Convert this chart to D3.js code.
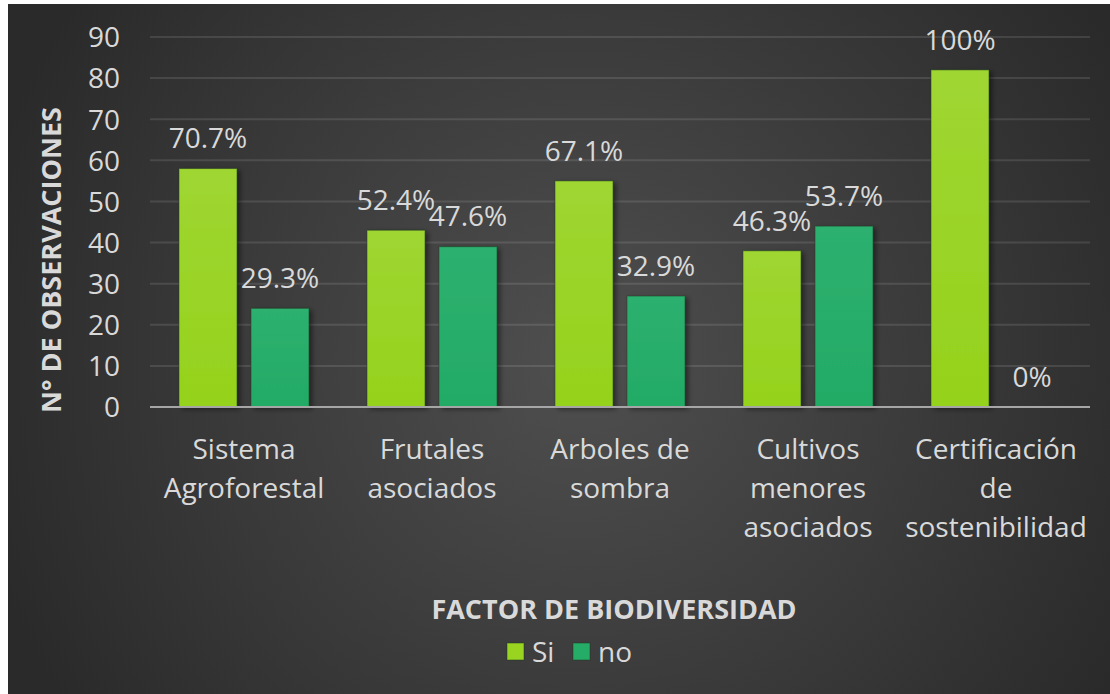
<!DOCTYPE html>
<html>
<head>
<meta charset="utf-8">
<script src="https://cdn.jsdelivr.net/npm/d3@7"></script>
<style>
  html, body { margin: 0; padding: 0; background: #ffffff; }
  svg { display: block; }
  text { font-family: "Open Sans", "Noto Sans", sans-serif; }
</style>
</head>
<body>
<svg id="chart" width="1110" height="694"></svg>
<script>
const categories = [
  ["Sistema", "Agroforestal"],
  ["Frutales", "asociados"],
  ["Arboles de", "sombra"],
  ["Cultivos", "menores", "asociados"],
  ["Certificación", "de", "sostenibilidad"]
];
const seriesNames = ["Si", "no"];
const siValues = [58, 43, 55, 38, 82];
const noValues = [24, 39, 27, 44, 0];
const siLabels = ["70.7%", "52.4%", "67.1%", "46.3%", "100%"];
const noLabels = ["29.3%", "47.6%", "32.9%", "53.7%", "0%"];
const yTicks = [0, 10, 20, 30, 40, 50, 60, 70, 80, 90];
const colors = ["#98d420", "#25ad68"];

const svg = d3.select("#chart");
const defs = svg.append("defs");

const rg = defs.append("radialGradient").attr("id", "bg")
  .attr("gradientUnits", "userSpaceOnUse")
  .attr("cx", 580).attr("cy", 360).attr("r", 620);
rg.append("stop").attr("offset", "0").attr("stop-color", "#4f4f4f");
rg.append("stop").attr("offset", "1").attr("stop-color", "#2a2a2a");

const f = defs.append("filter").attr("id", "shadow")
  .attr("x", "-20%").attr("y", "-10%").attr("width", "150%").attr("height", "130%");
f.append("feDropShadow").attr("dx", 3).attr("dy", 2).attr("stdDeviation", 2.5)
  .attr("flood-color", "#000").attr("flood-opacity", 0.45);

const gSi = defs.append("linearGradient").attr("id", "gsi").attr("x1", 0).attr("y1", 0).attr("x2", 0).attr("y2", 1);
gSi.append("stop").attr("offset", 0).attr("stop-color", "#9fd632");
gSi.append("stop").attr("offset", 1).attr("stop-color", "#95d21c");
const gNo = defs.append("linearGradient").attr("id", "gno").attr("x1", 0).attr("y1", 0).attr("x2", 0).attr("y2", 1);
gNo.append("stop").attr("offset", 0).attr("stop-color", "#2db06f");
gNo.append("stop").attr("offset", 1).attr("stop-color", "#22ab65");
const fills = ["url(#gsi)", "url(#gno)"];

svg.append("rect").attr("x", 8).attr("y", 4).attr("width", 1102).attr("height", 690)
  .attr("fill", "url(#bg)");

const plotLeft = 150, plotRight = 1090, plotTop = 37, plotBottom = 407;
const FS = 28;

const x0 = d3.scaleBand().domain(d3.range(categories.length))
  .range([plotLeft, plotRight]).paddingInner(58 / 188).paddingOuter(29 / 188);
const x1 = d3.scaleBand().domain(seriesNames)
  .range([0, x0.bandwidth()]).paddingInner(14 / 72).paddingOuter(0);
const y = d3.scaleLinear().domain([0, 90]).range([plotBottom, plotTop]);

// gridlines
svg.append("g").selectAll("line").data(yTicks.filter(d => d > 0)).join("line")
  .attr("x1", plotLeft).attr("x2", plotRight)
  .attr("y1", d => y(d)).attr("y2", d => y(d))
  .attr("stroke", "#ffffff").attr("stroke-opacity", 0.11).attr("stroke-width", 2);

// y axis labels
const yAxis = d3.axisLeft(y).tickValues(yTicks).tickSize(0).tickPadding(0);
const ya = svg.append("g").attr("transform", `translate(120,0)`).call(yAxis);
ya.select(".domain").remove();
ya.selectAll("text").attr("font-size", FS).attr("fill", "#d9d9d9")
  .attr("font-family", "'Open Sans', sans-serif").attr("dy", "0.35em");

// bars
const data = categories.map((c, i) => ({ i, vals: [siValues[i], noValues[i]], labels: [siLabels[i], noLabels[i]] }));
const groups = svg.append("g").selectAll("g").data(data).join("g")
  .attr("transform", d => `translate(${x0(d.i)},0)`);

groups.selectAll("rect").data(d => d.vals.map((v, k) => ({ v, k })).filter(o => o.v > 0)).join("rect")
  .attr("x", o => x1(seriesNames[o.k]))
  .attr("y", o => y(o.v))
  .attr("width", x1.bandwidth())
  .attr("height", o => y(0) - y(o.v))
  .attr("fill", o => fills[o.k])
  .attr("stroke", "#1e3a1e").attr("stroke-opacity", 0.5).attr("stroke-width", 1)
  .attr("filter", "url(#shadow)");

groups.selectAll("text.lbl").data(d => d.vals.map((v, k) => ({ v, k, t: d.labels[k] }))).join("text")
  .attr("class", "lbl")
  .attr("x", o => x1(seriesNames[o.k]) + x1.bandwidth() / 2)
  .attr("y", o => y(o.v) - 30)
  .attr("dy", "0.35em")
  .attr("text-anchor", "middle")
  .attr("font-size", FS).attr("fill", "#d9d9d9")
  .text(o => o.t);

// baseline
svg.append("line").attr("x1", plotLeft).attr("x2", plotRight).attr("y1", y(0)).attr("y2", y(0))
  .attr("stroke", "#a6a6a6").attr("stroke-width", 2);

// category labels
const cat = svg.append("g").selectAll("text").data(categories).join("text")
  .attr("text-anchor", "middle")
  .attr("font-size", FS).attr("fill", "#d9d9d9")
  .attr("x", (d, i) => x0(i) + x0.bandwidth() / 2)
  .attr("y", 449);
cat.selectAll("tspan").data(d => d).join("tspan")
  .attr("x", function () { return d3.select(this.parentNode).attr("x"); })
  .attr("dy", (d, j) => j === 0 ? "0.35em" : "1.4em")
  .text(d => d);

// axis titles
svg.append("text").attr("x", 614).attr("y", 610).attr("dy", "0.35em")
  .attr("text-anchor", "middle").attr("font-size", 27).attr("font-weight", "bold")
  .attr("fill", "#d9d9d9").text("FACTOR DE BIODIVERSIDAD");

svg.append("text").attr("transform", "translate(52,260) rotate(-90)").attr("dy", "0.35em")
  .attr("text-anchor", "middle").attr("font-size", 27).attr("font-weight", "bold")
  .attr("fill", "#d9d9d9").text("N° DE OBSERVACIONES");

// legend
const legX = [507, 573];
const leg = svg.append("g").selectAll("g").data(seriesNames).join("g")
  .attr("transform", (d, i) => `translate(${legX[i]},643)`);
leg.append("rect").attr("width", 17).attr("height", 17).attr("fill", (d, i) => colors[i])
  .attr("stroke", "#1e3a1e").attr("stroke-opacity", 0.5);
leg.append("text").attr("x", 25).attr("y", 9).attr("dy", "0.35em")
  .attr("font-size", FS).attr("fill", "#d9d9d9").text(d => d);
</script>
</body>
</html>
